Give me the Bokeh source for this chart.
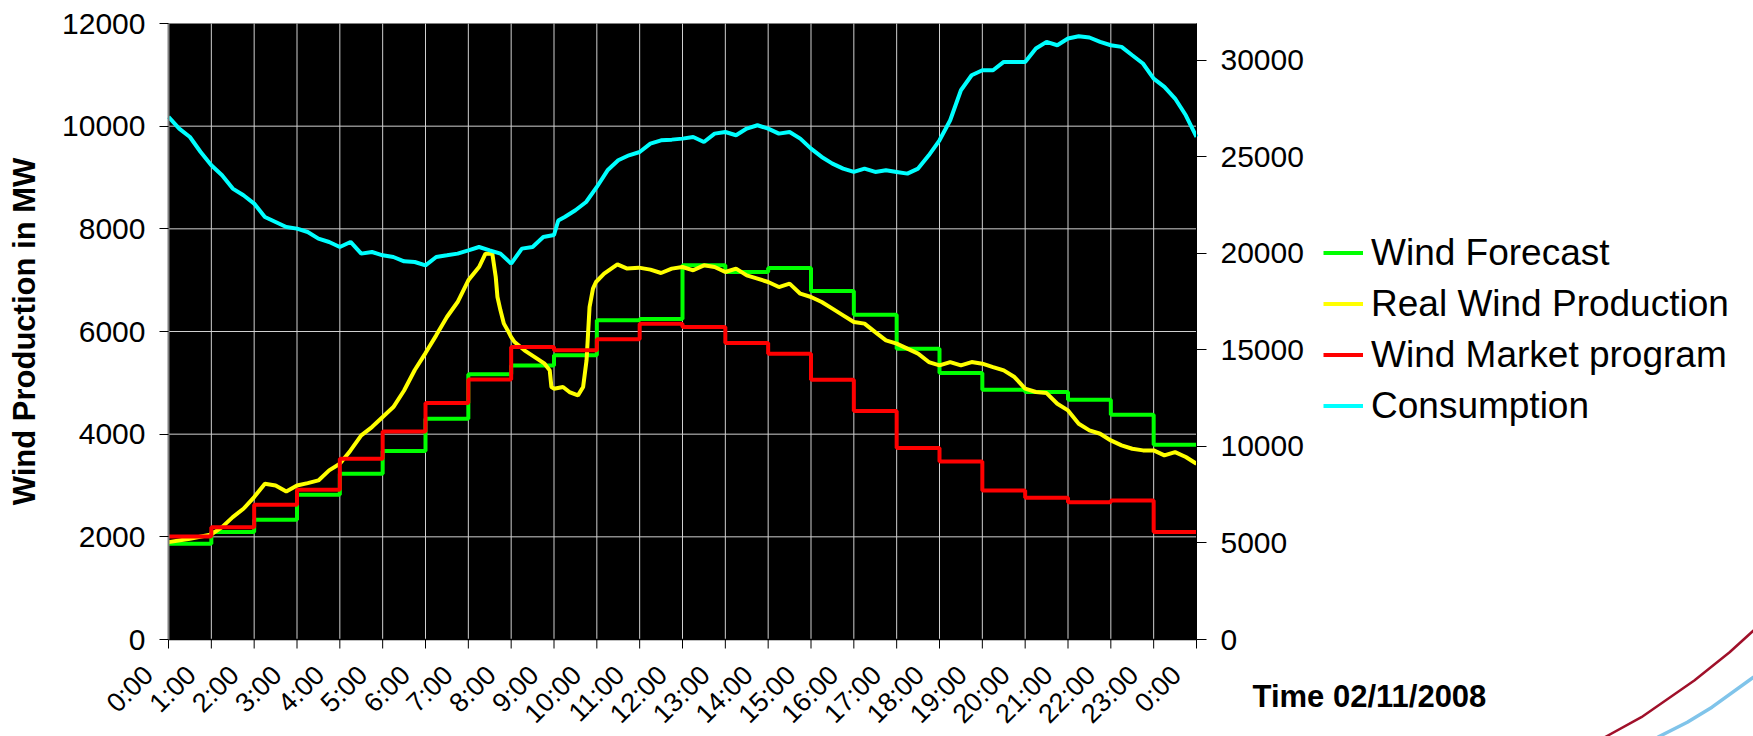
import math
from bokeh.plotting import figure
from bokeh.models import (Range1d, LinearAxis, FixedTicker, Legend, LegendItem,
                          Label, PolyAnnotation)
from bokeh.embed import file_html
from bokeh.resources import INLINE

# ---------------- data ----------------
hour_ticks = list(range(25))
tick_labels = ["0:00", "1:00", "2:00", "3:00", "4:00", "5:00", "6:00", "7:00",
               "8:00", "9:00", "10:00", "11:00", "12:00", "13:00", "14:00",
               "15:00", "16:00", "17:00", "18:00", "19:00", "20:00", "21:00",
               "22:00", "23:00", "0:00"]

# hourly step series (value held during each hour)
wind_forecast = [1865, 2092, 2332, 2820, 3229, 3671, 4301, 5165, 5340, 5535,
                 6217, 6243, 7289, 7159, 7237, 6788, 6328, 5666, 5190, 4866,
                 4821, 4671, 4379, 3794]
wind_market = [2007, 2189, 2625, 2917, 3521, 4054, 4606, 5067, 5697, 5633,
               5847, 6153, 6087, 5775, 5568, 5061, 4450, 3729, 3469, 2904,
               2761, 2676, 2709, 2092]

real_time = [0, 0.5, 1, 1.25, 1.5, 1.75, 2, 2.25, 2.5, 2.75, 3, 3.25, 3.5, 3.75,
             4, 4.25, 4.5, 4.75, 5, 5.25, 5.5, 5.75, 6, 6.25, 6.5, 6.75, 7, 7.25,
             7.4, 7.56, 7.64, 7.68, 7.75, 7.83, 7.94, 8.0, 8.08, 8.31, 8.55, 8.78,
             8.9, 8.94, 9.0, 9.21, 9.36, 9.56, 9.68, 9.76, 9.83, 9.91, 9.98,
             10.17, 10.48, 10.71, 10.98, 11.25, 11.5, 11.75, 12, 12.25, 12.5,
             12.75, 13, 13.25, 13.5, 13.75, 14, 14.25, 14.5, 14.75, 15, 15.25,
             15.5, 15.75, 16, 16.25, 16.5, 16.75, 17, 17.25, 17.5, 17.75, 18,
             18.25, 18.5, 18.75, 19, 19.25, 19.5, 19.75, 20, 20.25, 20.5, 20.75,
             21, 21.25, 21.5, 21.75, 22, 22.25, 22.5, 22.75, 23, 23.25, 23.5,
             23.75, 24]
real_production = [1897, 1962, 2046, 2189, 2384, 2547, 2774, 3034, 3001, 2884,
                   3001, 3047, 3099, 3294, 3424, 3684, 3976, 4138, 4333, 4528,
                   4850, 5250, 5580, 5925, 6282, 6574, 6997, 7256, 7517, 7517,
                   7061, 6672, 6412, 6153, 5989, 5892, 5794, 5633, 5502, 5373,
                   5243, 4918, 4886, 4918, 4821, 4756, 4918, 5438, 6477, 6835,
                   6964, 7127, 7309, 7225, 7244, 7205, 7140, 7225, 7256, 7192,
                   7289, 7256, 7159, 7225, 7094, 7030, 6964, 6866, 6932, 6737,
                   6672, 6574, 6445, 6315, 6184, 6153, 5989, 5828, 5763, 5666,
                   5568, 5405, 5340, 5405, 5340, 5405, 5373, 5307, 5243, 5113,
                   4886, 4821, 4801, 4593, 4463, 4203, 4073, 4008, 3878, 3781,
                   3716, 3684, 3684, 3586, 3651, 3554, 3424]

cons_time = [0, 0.25, 0.5, 0.75, 1, 1.25, 1.5, 1.75, 2, 2.25, 2.5, 2.75, 3, 3.25,
             3.5, 3.75, 4, 4.25, 4.5, 4.75, 5, 5.25, 5.5, 5.75, 6, 6.25, 6.5,
             6.75, 7, 7.25, 7.5, 7.75, 8, 8.25, 8.5, 8.75, 9, 9.1, 9.25, 9.5,
             9.75, 10, 10.25, 10.5, 10.75, 11, 11.25, 11.5, 11.75, 12, 12.25,
             12.5, 12.75, 13, 13.25, 13.5, 13.75, 14, 14.25, 14.5, 14.75, 15,
             15.25, 15.5, 15.75, 16, 16.25, 16.5, 16.75, 17, 17.25, 17.5, 17.75,
             18, 18.25, 18.5, 18.75, 19, 19.25, 19.5, 19.75, 20, 20.25, 20.5,
             20.75, 21, 21.25, 21.5, 21.75, 22, 22.25, 22.5, 22.75, 23, 23.25,
             23.5, 23.75, 24]
consumption = [27062, 26459, 26024, 25247, 24558, 24040, 23350, 23004, 22572,
               21882, 21622, 21363, 21277, 21104, 20759, 20586, 20327, 20586,
               19982, 20068, 19895, 19809, 19584, 19550, 19377, 19809, 19895,
               19982, 20154, 20327, 20154, 19982, 19465, 20241, 20327, 20845,
               20950, 21700, 21882, 22227, 22658, 23435, 24298, 24816, 25075,
               25247, 25679, 25852, 25886, 25938, 26024, 25765, 26197, 26283,
               26112, 26459, 26630, 26459, 26197, 26283, 25938, 25420, 24989,
               24644, 24385, 24212, 24385, 24212, 24298, 24212, 24126, 24385,
               25075, 25852, 26889, 28443, 29220, 29479, 29479, 29911, 29911,
               29911, 30603, 30948, 30775, 31122, 31241, 31174, 30948, 30775,
               30689, 30257, 29828, 29049, 28615, 28014, 27148, 26024]

left_ticks = [0, 2000, 4000, 6000, 8000, 10000, 12000]
right_ticks = [0, 5000, 10000, 15000, 20000, 25000, 30000]
x_max, y_max, cons_max = 24, 12000, 31900

series_names = ["Wind Forecast", "Real Wind Production", "Wind Market program",
                "Consumption"]
series_colors = ["#00FF00", "#FFFF00", "#FF0000", "#00FFFF"]
x_title = "Time 02/11/2008"
y_title = "Wind Production in MW"

FONT = "Liberation Sans"
W, H = 1753, 736
# plot-area geometry in canvas pixels
PA_LEFT, PA_RIGHT, PA_TOP, PA_BOTTOM = 168, 1196, 23, 639
XLABEL_SHIFT = 20  # rotated hour labels sit a little left of their tick
TICK = 9

# The frame covers the whole canvas; ranges are extended so that the data
# area lands on the plot area, and the axes are drawn at fixed locations.
x_scale = (PA_RIGHT - PA_LEFT) / x_max
x_lo = -PA_LEFT / x_scale
x_hi = x_max + (W - PA_RIGHT) / x_scale
y_scale = (PA_BOTTOM - PA_TOP) / y_max
y_lo = -(H - PA_BOTTOM) / y_scale
y_hi = y_max + PA_TOP / y_scale
c_scale = (PA_BOTTOM - PA_TOP) / cons_max
c_lo = -(H - PA_BOTTOM) / c_scale
c_hi = cons_max + PA_TOP / c_scale
shift = XLABEL_SHIFT / x_scale

p = figure(width=W, height=H,
           x_range=Range1d(x_lo, x_hi), y_range=Range1d(y_lo, y_hi),
           output_backend="svg", toolbar_location=None,
           min_border_left=0, min_border_right=0,
           min_border_top=0, min_border_bottom=0,
           background_fill_color="white", border_fill_color="white",
           outline_line_color=None)
p.extra_y_ranges = {"cons": Range1d(c_lo, c_hi)}
p.extra_x_ranges = {"xlab": Range1d(x_lo + shift, x_hi + shift)}
p.grid.visible = False

# plot area + grid
p.quad(left=[0], right=[x_max], bottom=[0], top=[y_max], fill_color="black",
       line_color="#808080", line_width=1)
p.segment(x0=hour_ticks[1:-1], x1=hour_ticks[1:-1], y0=0, y1=y_max,
          line_color="#d0d0d0", line_width=1)
p.segment(x0=0, x1=x_max, y0=left_ticks[1:-1], y1=left_ticks[1:-1],
          line_color="#d0d0d0", line_width=1)
# x axis line and hour ticks
p.segment(x0=0, x1=x_max, y0=0, y1=0, line_color="black", line_width=1.5)
p.segment(x0=hour_ticks, x1=hour_ticks, y0=0, y1=-TICK / y_scale,
          line_color="black", line_width=1)

# x axis: rotated hour labels (drawn at y = 0)
xa = p.xaxis[0]
xa.x_range_name = "xlab"
xa.fixed_location = 0
xa.bounds = (0, x_max)
xa.ticker = FixedTicker(ticks=hour_ticks)
xa.major_label_overrides = {i: tick_labels[i] for i in hour_ticks}
xa.major_label_orientation = math.pi / 4
xa.major_label_text_font = FONT
xa.major_label_text_font_size = "27px"
xa.major_label_text_color = "black"
xa.major_label_standoff = TICK + 22
xa.major_tick_out = 0
xa.major_tick_in = 0
xa.minor_tick_out = 0
xa.minor_tick_in = 0
xa.axis_line_color = None
xa.major_tick_line_color = None
xa.minor_tick_line_color = None

# left axis (drawn at x = 0)
ya = p.yaxis[0]
ya.fixed_location = 0
ya.bounds = (0, y_max)
ya.ticker = FixedTicker(ticks=left_ticks)
ya.major_label_text_font = FONT
ya.major_label_text_font_size = "30px"
ya.major_label_text_color = "black"
ya.major_label_standoff = 14
ya.major_tick_out = TICK
ya.major_tick_in = 0
ya.minor_tick_out = 0
ya.minor_tick_in = 0
ya.axis_line_color = "#808080"
ya.axis_line_width = 2
ya.major_tick_line_color = "black"
ya.axis_label = y_title
ya.axis_label_text_font = FONT
ya.axis_label_text_font_style = "bold"
ya.axis_label_text_font_size = "31px"
ya.axis_label_text_color = "black"
ya.axis_label_standoff = 17

# right axis (drawn at x = 24)
ra = LinearAxis(y_range_name="cons", ticker=FixedTicker(ticks=right_ticks),
                fixed_location=x_max, bounds=(0, cons_max))
ra.major_label_text_font = FONT
ra.major_label_text_font_size = "30px"
ra.major_label_text_color = "black"
ra.major_label_standoff = 14
ra.major_tick_out = 10
ra.major_tick_in = 0
ra.minor_tick_out = 0
ra.minor_tick_in = 0
ra.axis_line_color = "black"
ra.major_tick_line_color = "black"
p.add_layout(ra, "right")

# ---------------- series ----------------
r_fc = p.step(x=hour_ticks, y=wind_forecast + [wind_forecast[-1]], mode="after",
              line_color=series_colors[0], line_width=4)
r_real = p.line(x=real_time, y=real_production, line_color=series_colors[1],
                line_width=4)
r_mkt = p.step(x=hour_ticks, y=wind_market + [wind_market[-1]], mode="after",
               line_color=series_colors[2], line_width=4)
r_cons = p.line(x=cons_time, y=consumption, y_range_name="cons",
                line_color=series_colors[3], line_width=4)

legend = Legend(items=[LegendItem(label=series_names[0], renderers=[r_fc]),
                       LegendItem(label=series_names[1], renderers=[r_real]),
                       LegendItem(label=series_names[2], renderers=[r_mkt]),
                       LegendItem(label=series_names[3], renderers=[r_cons])],
                location=(1323, H - 427))
legend.border_line_alpha = 0
legend.background_fill_alpha = 0
legend.label_text_font = FONT
legend.label_text_font_size = "37px"
legend.label_text_color = "black"
legend.glyph_width = 40
legend.glyph_height = 43
legend.label_height = 43
legend.label_standoff = 8
legend.spacing = 8
legend.padding = 0
legend.margin = 0
p.add_layout(legend)

# x axis title, bottom right (screen px from the bottom-left corner)
p.add_layout(Label(x=1252, y=H - 696, x_units="screen",
                   y_units="screen", text=x_title, text_font=FONT,
                   text_font_style="bold", text_font_size="31px",
                   text_color="black", text_baseline="alphabetic",
                   text_align="left"))

# slide decoration arcs (canvas px, y from top)
deco_red_x = [1590, 1605.6, 1640.9, 1693.8, 1729.1, 1753, 1770]
deco_red_y = [745, 736, 716.7, 680, 651.7, 630, 614]
deco_blue_x = [1645, 1658.6, 1686.8, 1711.5, 1753, 1770]
deco_blue_y = [745, 736, 721.7, 706.7, 676.7, 664]


def arc(xs, ys, color, width):
    sy = [H - v for v in ys]
    return PolyAnnotation(xs=xs + xs[::-1], ys=sy + sy[::-1],
                          xs_units="screen", ys_units="screen",
                          fill_alpha=0, line_alpha=1.0,
                          line_color=color, line_width=width)


p.add_layout(arc(deco_red_x, deco_red_y, "#A0102A", 2.5))
p.add_layout(arc(deco_blue_x, deco_blue_y, "#80C4EA", 3.5))

open("out.html", "w").write(file_html(p, INLINE))
